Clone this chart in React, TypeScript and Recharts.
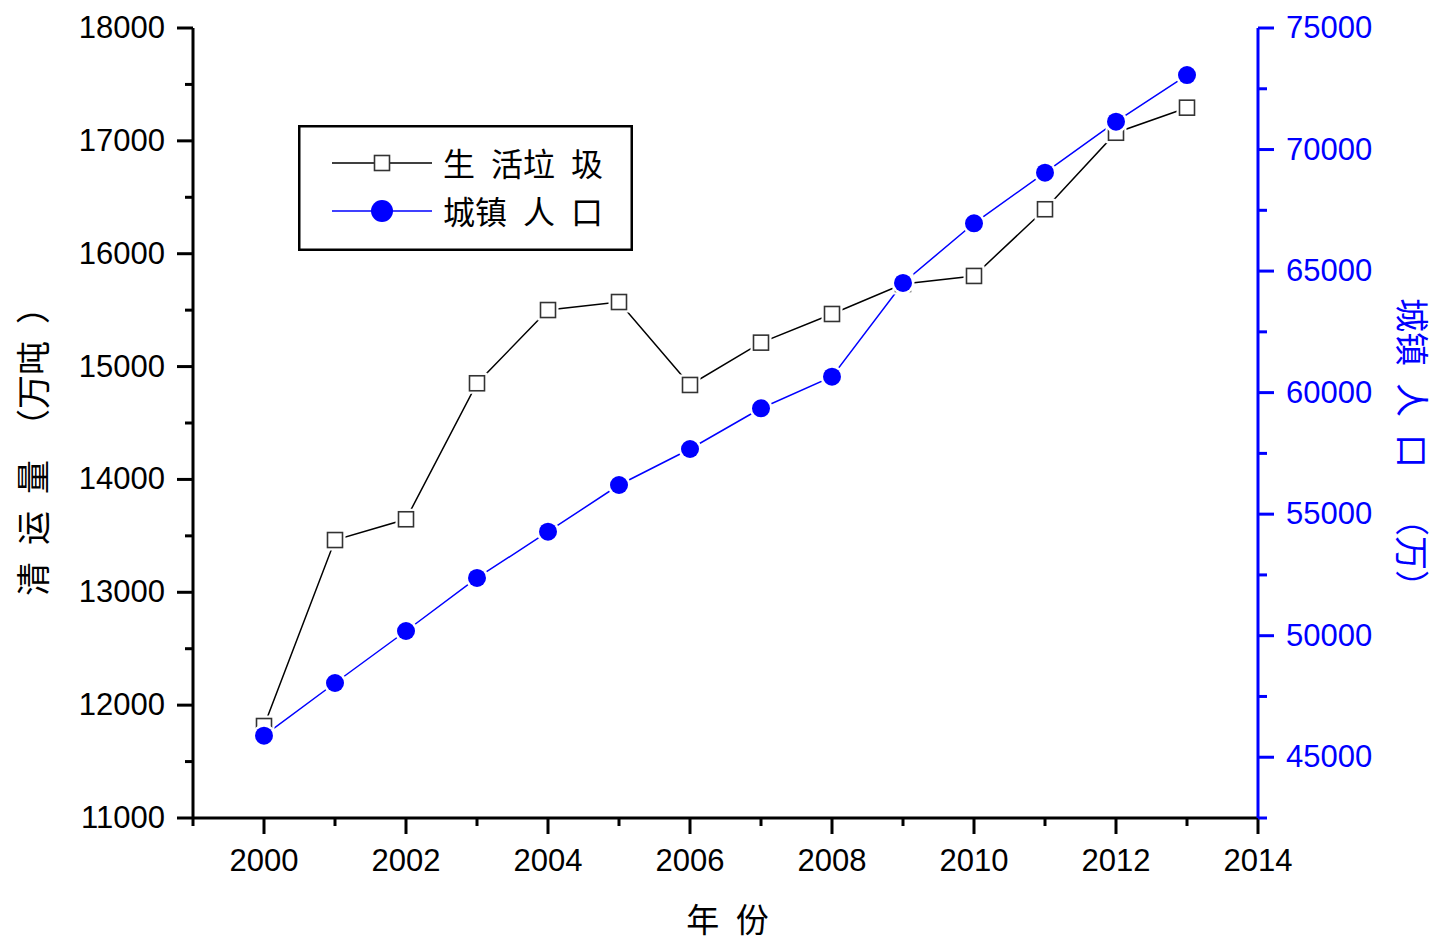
import React from "react"
import { LineChart, Line, XAxis, YAxis, Legend, Label } from "recharts"

const years = [2000, 2001, 2002, 2003, 2004, 2005, 2006, 2007, 2008, 2009, 2010, 2011, 2012, 2013]
const garbage = [11815, 13463, 13647, 14852, 15501, 15572, 14837, 15212, 15466, 15732, 15803, 16394, 17072, 17294]
const urbanPop = [45886, 48054, 50193, 52374, 54278, 56199, 57680, 59355, 60655, 64510, 66966, 69047, 71145, 73066]

const yearTicks = [1999, 2000, 2001, 2002, 2003, 2004, 2005, 2006, 2007, 2008, 2009, 2010, 2011, 2012, 2013, 2014]
const leftTicks = [11000, 11500, 12000, 12500, 13000, 13500, 14000, 14500, 15000, 15500, 16000, 16500, 17000, 17500, 18000]
const rightTicks = [42500, 45000, 47500, 50000, 52500, 55000, 57500, 60000, 62500, 65000, 67500, 70000, 72500, 75000]

const data = years.map((year, i) => ({ year, garbage: garbage[i], urban: urbanPop[i] }))

const NUM_FONT = "'Liberation Sans', Arial, sans-serif"
const CJK_FONT = "'Noto Sans CJK SC', 'Noto Sans', sans-serif"
const BLUE = "#0000ff"
const SP = "\u2002"

const BottomTick = ({ x, y, payload }: any) => {
  const major = payload.value % 2 === 0
  return (
    <g>
      <line x1={x} y1={y} x2={x} y2={y + (major ? 16 : 8)} stroke="#000" strokeWidth={3} />
      {major && (
        <text x={x} y={y + 53} textAnchor="middle" fontSize={31} fontFamily={NUM_FONT} fill="#000">
          {payload.value}
        </text>
      )}
    </g>
  )
}

const TopTick = ({ x, y, payload }: any) => {
  const major = payload.value % 2 === 0
  return <line x1={x} y1={y} x2={x} y2={y + (major ? 15 : 8)} stroke="#000" strokeWidth={3} />
}

const LeftTick = ({ x, y, payload }: any) => {
  const major = payload.value % 1000 === 0
  return (
    <g>
      <line x1={x - (major ? 16 : 8)} y1={y} x2={x} y2={y} stroke="#000" strokeWidth={3} />
      {major && (
        <text x={x - 28} y={y + 10} textAnchor="end" fontSize={31} fontFamily={NUM_FONT} fill="#000">
          {payload.value}
        </text>
      )}
    </g>
  )
}

const RightTick = ({ x, y, payload }: any) => {
  const major = payload.value % 5000 === 0
  return (
    <g>
      <line x1={x} y1={y} x2={x + (major ? 16 : 9)} y2={y} stroke={BLUE} strokeWidth={3} />
      {major && (
        <text x={x + 28} y={y + 10} textAnchor="start" fontSize={31} fontFamily={NUM_FONT} fill={BLUE}>
          {payload.value}
        </text>
      )}
    </g>
  )
}

const SquareDot = ({ cx, cy, index }: any) => (
  <g key={`sq-${index}`}>
    <rect x={cx - 7.5} y={cy - 7.5} width={15} height={15} fill="#fff" stroke="#fff" strokeWidth={6} />
    <rect x={cx - 7.5} y={cy - 7.5} width={15} height={15} fill="#fff" stroke="#333" strokeWidth={1.6} />
  </g>
)

const CircleDot = ({ cx, cy, index }: any) => (
  <g key={`ci-${index}`}>
    <circle cx={cx} cy={cy} r={9} fill={BLUE} stroke="#fff" strokeWidth={5} />
    <circle cx={cx} cy={cy} r={9} fill={BLUE} />
  </g>
)

const LegendBox = () => (
  <svg width={335} height={126} style={{ display: "block" }}>
    <rect x={1.25} y={1.25} width={332.5} height={123.5} fill="#fff" stroke="#000" strokeWidth={2.5} />
    <line x1={34} y1={38} x2={134} y2={38} stroke="#000" strokeWidth={1.5} />
    <rect x={76.5} y={30.5} width={15} height={15} fill="#fff" stroke="#333" strokeWidth={1.6} />
    <text x={145} y={51} fontSize={32} fontFamily={CJK_FONT} fill="#000" style={{ whiteSpace: "pre" }}>
      {`生${SP}活垃${SP}圾`}
    </text>
    <line x1={34} y1={86} x2={134} y2={86} stroke={BLUE} strokeWidth={1.5} />
    <circle cx={84} cy={86} r={11} fill={BLUE} />
    <text x={145} y={99} fontSize={32} fontFamily={CJK_FONT} fill="#000" style={{ whiteSpace: "pre" }}>
      {`城镇${SP}人${SP}口`}
    </text>
  </svg>
)

export default function App() {
  return (
    <div style={{ position: "absolute", left: 0, top: 0, width: 1434, height: 942, background: "#fff" }}>
      <LineChart width={1434} height={942} data={data} margin={{ top: 28, right: 0, bottom: 0, left: 0 }}>
        <XAxis
          dataKey="year"
          type="number"
          domain={[1999, 2014]}
          ticks={yearTicks}
          interval={0}
          height={124}
          tickSize={0}
          tickMargin={0}
          tickLine={false}
          tick={BottomTick}
          axisLine={{ stroke: "#000", strokeWidth: 3 }}
        >
          <Label
            content={({ viewBox }: any) => (
              <text
                x={viewBox.x + viewBox.width / 2 + 2}
                y={viewBox.y + viewBox.height - 10}
                textAnchor="middle"
                fontSize={33}
                fontFamily={CJK_FONT}
                fill="#000"
                style={{ whiteSpace: "pre" }}
              >
                {`年${SP}份`}
              </text>
            )}
          />
        </XAxis>
        <XAxis
          xAxisId="top"
          dataKey="year"
          type="number"
          orientation="top"
          domain={[1999, 2014]}
          ticks={yearTicks}
          interval={0}
          height={0}
          tickSize={0}
          tickMargin={0}
          tickLine={false}
          tick={TopTick}
          axisLine={{ stroke: "#000", strokeWidth: 3 }}
        />
        <YAxis
          yAxisId="left"
          type="number"
          domain={[11000, 18000]}
          ticks={leftTicks}
          interval={0}
          width={193}
          tickSize={0}
          tickMargin={0}
          tickLine={false}
          tick={LeftTick}
          axisLine={{ stroke: "#000", strokeWidth: 3 }}
        >
          <Label
            content={() => (
              <text
                x={31}
                y={443}
                transform="rotate(-90 31 443)"
                textAnchor="middle"
                dominantBaseline="central"
                fontSize={34}
                fontFamily={CJK_FONT}
                fill="#000"
                style={{ whiteSpace: "pre" }}
              >
                {`清${SP}运${SP}量${SP}（万吨${SP}）`}
              </text>
            )}
          />
        </YAxis>
        <YAxis
          yAxisId="right"
          orientation="right"
          type="number"
          domain={[42500, 75000]}
          ticks={rightTicks}
          interval={0}
          width={176}
          tickSize={0}
          tickMargin={0}
          tickLine={false}
          tick={RightTick}
          axisLine={{ stroke: BLUE, strokeWidth: 3 }}
        >
          <Label
            content={() => (
              <text
                x={1413}
                y={451}
                transform="rotate(90 1413 451)"
                textAnchor="middle"
                dominantBaseline="central"
                fontSize={34}
                fontFamily={CJK_FONT}
                fill={BLUE}
                style={{ whiteSpace: "pre" }}
              >
                {`城镇${SP}人${SP}口${SP}${SP}（万）`}
              </text>
            )}
          />
        </YAxis>
        <Legend
          layout="horizontal"
          verticalAlign="middle"
          align="center"
          content={LegendBox}
          wrapperStyle={{ left: 298, top: 125, width: 335, height: 126 }}
        />
        <Line
          xAxisId="top"
          yAxisId="left"
          dataKey="garbage"
          stroke="none"
          dot={false}
          activeDot={false}
          legendType="none"
          isAnimationActive={false}
        />
        <Line
          yAxisId="left"
          dataKey="garbage"
          name="生活垃圾"
          stroke="#000"
          strokeWidth={1.5}
          dot={SquareDot}
          activeDot={false}
          isAnimationActive={false}
        />
        <Line
          yAxisId="right"
          dataKey="urban"
          name="城镇人口"
          stroke={BLUE}
          strokeWidth={1.5}
          dot={CircleDot}
          activeDot={false}
          isAnimationActive={false}
        />
      </LineChart>
    </div>
  )
}
